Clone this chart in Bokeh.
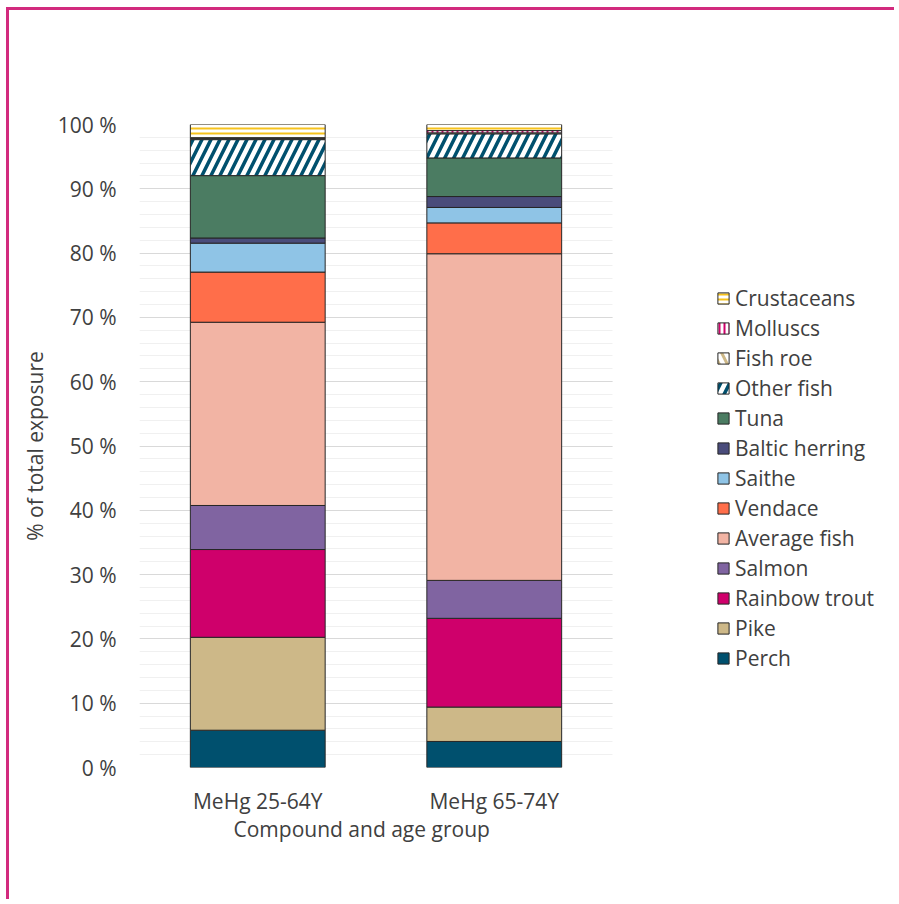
from bokeh.plotting import figure
from bokeh.models import (ColumnDataSource, Range1d, FixedTicker, PrintfTickFormatter,
                          Legend, LegendItem, Title)
from bokeh.transform import stack
from bokeh.embed import file_html
from bokeh.resources import INLINE

# ---- data ----
groups = ["MeHg 25-64Y", "MeHg 65-74Y"]
series = ["Perch", "Pike", "Rainbow trout", "Salmon", "Average fish", "Vendace",
          "Saithe", "Baltic herring", "Tuna", "Other fish", "Fish roe", "Molluscs",
          "Crustaceans"]
perch = [5.8, 4.05]
pike = [14.45, 5.35]
rainbow_trout = [13.65, 13.8]
salmon = [6.85, 5.9]
average_fish = [28.5, 50.8]
vendace = [7.8, 4.8]
saithe = [4.5, 2.4]
baltic_herring = [0.8, 1.7]
tuna = [9.7, 6.0]
other_fish = [5.6, 3.75]
fish_roe = [0.2, 0.15]
molluscs = [0.1, 0.35]
crustaceans = [2.05, 0.95]
y_ticks = list(range(0, 101, 10))

values = [perch, pike, rainbow_trout, salmon, average_fish, vendace, saithe,
          baltic_herring, tuna, other_fish, fish_roe, molluscs, crustaceans]
keys = ["s%d" % i for i in range(len(series))]
xpos = list(range(len(groups)))
data = {"x": xpos, "group": groups}
for k, v in zip(keys, values):
    data[k] = v
src = ColumnDataSource(data)

styles = [
    dict(fill_color="#00506E"),
    dict(fill_color="#CDB888"),
    dict(fill_color="#CF006B"),
    dict(fill_color="#8064A1"),
    dict(fill_color="#F2B4A4"),
    dict(fill_color="#FF6E4A"),
    dict(fill_color="#8FC4E6"),
    dict(fill_color="#4A4C7B"),
    dict(fill_color="#4B7C62"),
    dict(fill_color="white", hatch_pattern="/", hatch_color="#00506E", hatch_scale=18, hatch_weight=3.5),
    dict(fill_color="white", hatch_pattern="\\", hatch_color="#CDB888", hatch_scale=16, hatch_weight=3),
    dict(fill_color="white", hatch_pattern="|", hatch_color="#CF006B", hatch_scale=5, hatch_weight=2),
    dict(fill_color="white", hatch_pattern="-", hatch_color="#F7C31C", hatch_scale=5, hatch_weight=2),
]

FONT = "Open Sans"
TXT = "#404040"
FS = "21px"

p = figure(x_range=Range1d(-0.5, 2.705), y_range=(0, 100),
           width=888, height=892, output_backend="svg", toolbar_location=None,
           min_border_left=130, min_border_right=0, min_border_top=114,
           min_border_bottom=135, outline_line_color=None, background_fill_color="white")
p.styles = {"border-top": "3px solid #D22A7E", "border-left": "3px solid #D22A7E",
            "margin-top": "7px", "margin-left": "6px"}

renderers = []
for i, (k, st) in enumerate(zip(keys, styles)):
    r = p.vbar(x="x", width=0.57, bottom=stack(*keys[:i]), top=stack(*keys[:i + 1]),
               source=src, line_color="#262626", line_width=1, **st)
    renderers.append(r)

# axes
p.yaxis.ticker = FixedTicker(ticks=y_ticks, minor_ticks=list(range(0, 101, 2)))
p.yaxis.formatter = PrintfTickFormatter(format="%d %%")
p.xaxis.ticker = FixedTicker(ticks=xpos)
p.xaxis.major_label_overrides = {i: g for i, g in zip(xpos, groups)}
for ax in (p.xaxis[0], p.yaxis[0]):
    ax.axis_line_color = None
    ax.major_tick_line_color = None
    ax.minor_tick_line_color = None
    ax.major_label_text_font = FONT
    ax.major_label_text_font_size = FS
    ax.major_label_text_color = TXT
    ax.axis_label_text_font = FONT
    ax.axis_label_text_font_size = FS
    ax.axis_label_text_font_style = "normal"
    ax.axis_label_text_color = TXT
p.yaxis.axis_label = "% of total exposure"
p.yaxis.major_label_standoff = 17
p.yaxis.axis_label_standoff = 6
p.xaxis.major_label_standoff = 13

xtitle = Title(text="Compound and age group", align="left", offset=94, standoff=-9,
               text_font=FONT, text_font_size=FS, text_font_style="normal", text_color=TXT)
p.add_layout(xtitle, "below")

p.xgrid.grid_line_color = None
p.ygrid.grid_line_color = "#D9D9D9"
p.ygrid.minor_grid_line_color = "#F0F0F0"
p.ygrid.cross_bounds = (-0.5, 1.5)

items = [LegendItem(label=s, renderers=[r]) for s, r in zip(series, renderers)][::-1]
legend = Legend(items=items, location=(577, 95), padding=0, margin=0,
                border_line_color=None, background_fill_alpha=0,
                glyph_width=14, glyph_height=14, label_standoff=5, spacing=2,
                label_text_font=FONT, label_text_font_size=FS, label_text_color=TXT)
p.add_layout(legend, "center")

open("out.html", "w").write(file_html(p, INLINE))
